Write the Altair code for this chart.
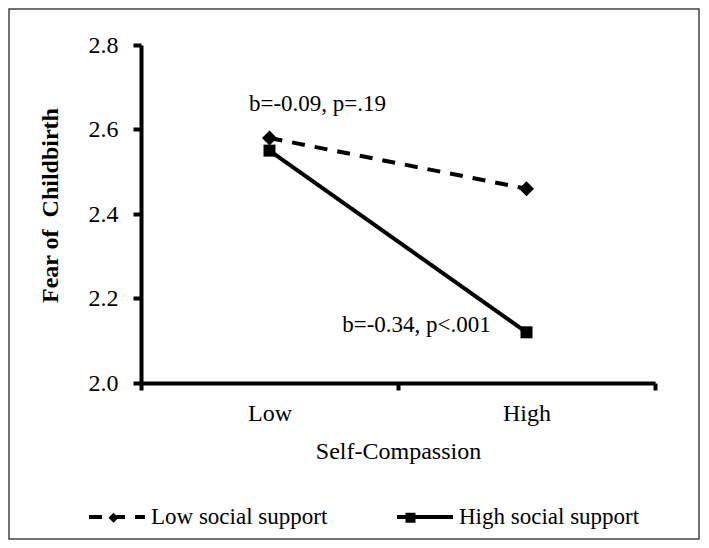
import altair as alt
import pandas as pd

# ---- data ----
compassion = ["Low", "High"]
series_names = ["Low social support", "High social support"]
low_support = [2.58, 2.46]
high_support = [2.55, 2.12]

ann_text = ["b=-0.09, p=.19", "b=-0.34, p<.001"]
ann_x = ["Low", "High"]
ann_y = [2.66, 2.137]
ann_dx = [48, -110]

y_ticks = [2.0, 2.2, 2.4, 2.6, 2.8]

rows = []
for s, vals in zip(series_names, [low_support, high_support]):
    for c, v in zip(compassion, vals):
        rows.append({"compassion": c, "series": s, "marker": s, "fear": v})
df = pd.DataFrame(rows)

ann_df = pd.DataFrame({"compassion": ann_x, "fear": ann_y, "label": ann_text})

FONT = "Liberation Serif"

x_scale = alt.Scale(type="band", domain=compassion, paddingInner=0, paddingOuter=0)
y_scale = alt.Scale(domain=[2.0, 2.8], nice=False, zero=False)

x_enc = alt.X(
    "compassion:N", sort=compassion, scale=x_scale,
    axis=alt.Axis(
        title="Self-Compassion", tickBand="extent", labelAngle=0,
        labelFont=FONT, labelFontSize=24, labelColor="black", labelPadding=11,
        titleFont=FONT, titleFontSize=24, titleFontWeight="normal", titleColor="black",
        titlePadding=14,
        domainColor="black", domainWidth=4, tickColor="black", tickWidth=4, tickSize=7,
        grid=False,
    ),
)
y_enc = alt.Y(
    "fear:Q", scale=y_scale,
    axis=alt.Axis(
        title="Fear of\u00a0 Childbirth", values=y_ticks, format=".1f",
        labelFont=FONT, labelFontSize=24, labelColor="black", labelPadding=15,
        titleFont=FONT, titleFontSize=24, titleFontWeight="bold", titleColor="black",
        titleX=-91, titleY=160, titleAlign="center", titleBaseline="middle", titleAngle=-90,
        domainColor="black", domainWidth=4, tickColor="black", tickWidth=4, tickSize=8,
        grid=False,
    ),
)

base = alt.Chart(df)

# line legend (dashed / solid strokes with labels)
lines = base.mark_line(color="black", strokeWidth=4).encode(
    x=x_enc, y=y_enc,
    detail="series:N",
    strokeDash=alt.StrokeDash(
        "series:N", sort=series_names,
        scale=alt.Scale(domain=series_names, range=[[13, 10], [1, 0]]),
        legend=alt.Legend(
            title=None, orient="none", legendX=-54, legendY=442,
            direction="horizontal", columns=2, columnPadding=61,
            symbolType="stroke", symbolSize=3136, symbolStrokeWidth=4, symbolStrokeColor="black",
            labelFont=FONT, labelFontSize=23, labelColor="black", labelOffset=4, labelLimit=400,
        ),
    ),
)

# marker legend overlaid on the centre of each legend stroke (no labels of its own)
points = base.mark_point(filled=True, color="black", opacity=1).encode(
    x=x_enc, y=y_enc,
    shape=alt.Shape(
        "marker:N", sort=series_names,
        scale=alt.Scale(range=["diamond", "square"]),
        legend=alt.Legend(
            title=None, orient="none", legendX=-39, legendY=461,
            direction="horizontal", columns=2, columnPadding=270,
            symbolFillColor="black", symbolStrokeColor="black", symbolOpacity=1,
            labelExpr="''", labelFont=FONT, labelFontSize=23, labelOffset=4,
        ),
    ),
    size=alt.Size("marker:N", sort=series_names,
                  scale=alt.Scale(range=[225, 144]), legend=None),
)

ann_layers = []
for i in range(len(ann_text)):
    ann_layers.append(
        alt.Chart(ann_df.iloc[[i]]).mark_text(
            font=FONT, fontSize=23, color="black", baseline="middle", align="center", dx=ann_dx[i]
        ).encode(x=x_enc, y=y_enc, text="label:N")
    )

frame = alt.Chart(pd.DataFrame({"f": [0]})).mark_rect(
    fillOpacity=0, stroke="#444444", strokeWidth=1.5
).encode(
    x=alt.value(-132), x2=alt.value(513 + 45), y=alt.value(-36), y2=alt.value(338 + 156)
)

chart = alt.layer(frame, lines, points, *ann_layers).properties(
    width=514, height=338,
    background="white",
    autosize=alt.AutoSizeParams(type="none"),
    padding={"left": 133, "top": 37, "right": 46, "bottom": 157},
).configure_view(stroke=None)

chart.save("out.html", embed_options={"renderer": "svg", "actions": False})
